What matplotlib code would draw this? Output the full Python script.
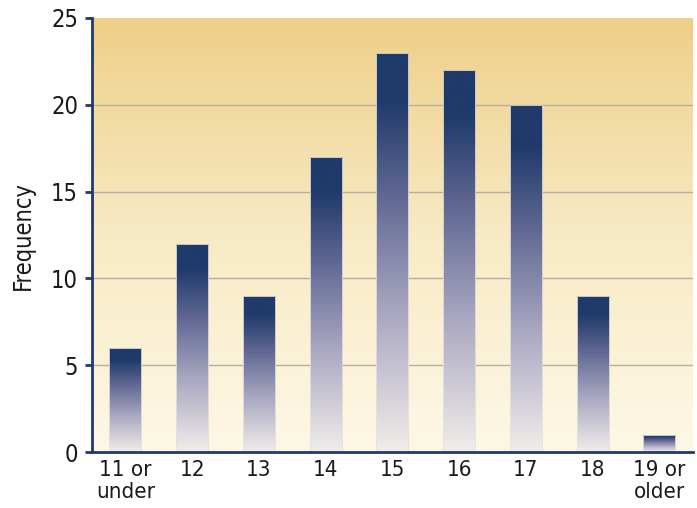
import numpy as np
import matplotlib.pyplot as plt
from matplotlib.colors import LinearSegmentedColormap

categories = ['11 or\nunder', '12', '13', '14', '15', '16', '17', '18', '19 or\nolder']
frequency = [6, 12, 9, 17, 23, 22, 20, 9, 1]
yticks = [0, 5, 10, 15, 20, 25]

plt.rcParams['font.family'] = ['DejaVu Sans']
plt.rcParams['font.stretch'] = 'condensed'

navy = '#1f3a6b'
bar_cmap = LinearSegmentedColormap.from_list(
    'bar', [(0, '#f1edea'), (0.35, '#a9a7c1'), (0.65, '#5e6691'), (0.88, navy), (1, navy)])
bg_cmap = LinearSegmentedColormap.from_list('bg', ['#fdf8e6', '#f8eac4', '#eecf88'])

fig = plt.figure(figsize=(6.97, 5.08), dpi=100)
ax = fig.add_axes([0.132, 0.110, 0.862, 0.855])

ax.set_xlim(-0.5, len(categories) - 0.5)
ax.set_ylim(0, 25)

# background gradient
grad = np.linspace(0, 1, 256).reshape(-1, 1)
ax.imshow(grad, cmap=bg_cmap, origin='lower', aspect='auto',
          extent=[-0.5, len(categories) - 0.5, 0, 25], zorder=0)

for y in yticks[1:-1]:
    ax.axhline(y, color='#b4aea4', lw=1.0, zorder=1)

x = np.arange(len(categories))
bars = ax.bar(x, frequency, width=0.48, color='none', edgecolor='#e6e2dc',
              linewidth=0.6, zorder=3)
for rect, h in zip(bars, frequency):
    im = ax.imshow(grad, cmap=bar_cmap, origin='lower', aspect='auto',
                   extent=[rect.get_x(), rect.get_x() + rect.get_width(), 0, h],
                   zorder=2)
    im.set_clip_path(rect)

ax.set_xticks(x)
ax.set_xticklabels(categories, fontsize=16, color='#1a1a1a', linespacing=1.12)
ax.set_yticks(yticks)
ax.set_yticklabels([str(v) for v in yticks], fontsize=17, color='#1a1a1a')
ax.tick_params(axis='x', length=0, pad=6)
ax.tick_params(axis='y', length=5, width=2, color=navy, pad=5)
ax.set_ylabel('Frequency', fontsize=17, color='#1a1a1a', labelpad=12)

for s in ['top', 'right']:
    ax.spines[s].set_visible(False)
for s in ['left', 'bottom']:
    ax.spines[s].set_color(navy)
    ax.spines[s].set_linewidth(2)
    ax.spines[s].set_zorder(4)

fig.savefig('out.png', dpi=100)
